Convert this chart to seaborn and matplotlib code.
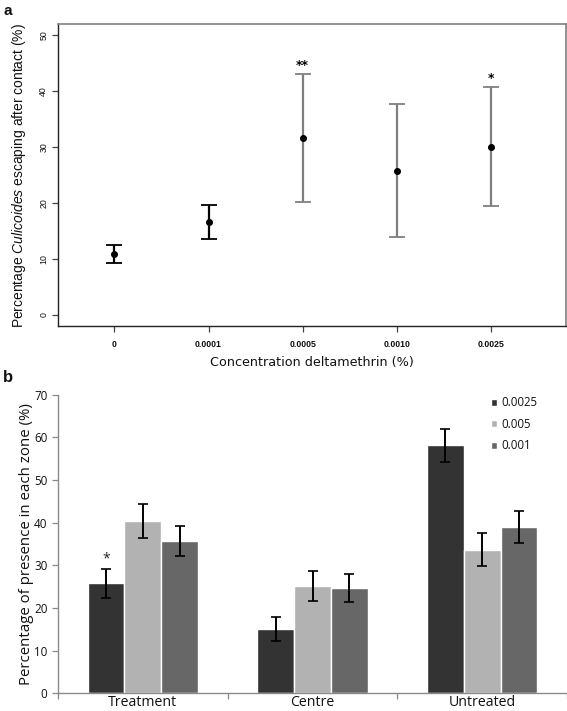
import numpy as np
import pandas as pd
import matplotlib
matplotlib.use("Agg")
import matplotlib.pyplot as plt
import seaborn as sns

# ---------------- data ----------------
conc_labels = ["0", "0.0001", "0.0005", "0.0010", "0.0025"]
escape_mean = [10.9, 16.6, 31.7, 25.8, 30.0]
escape_low = [9.3, 13.6, 20.2, 13.9, 19.4]
escape_high = [12.4, 19.7, 43.1, 37.7, 40.7]
escape_sig = ["", "", "**", "", "*"]

zones = ["Treatment", "Centre", "Untreated"]
doses = ["0.0025", "0.005", "0.001"]
presence_0025 = [25.8, 15.1, 58.1]
presence_005 = [40.3, 25.2, 33.7]
presence_001 = [35.7, 24.6, 39.0]
err_0025 = [3.4, 2.9, 3.9]
err_005 = [4.0, 3.5, 3.9]
err_001 = [3.6, 3.3, 3.7]
presence_sig = [["*", "", ""], ["", "", ""], ["", "", ""]]  # by dose, zone

sns.set_theme(style="white")
plt.rcParams["font.family"] = ["DejaVu Sans"]
plt.rcParams["mathtext.fontset"] = "custom"
plt.rcParams["mathtext.rm"] = "Liberation Sans"
plt.rcParams["mathtext.it"] = "Liberation Sans:italic"
for k in ["text.color", "axes.labelcolor", "xtick.color", "ytick.color"]:
    plt.rcParams[k] = "#111111"

W, H = 567, 711
fig = plt.figure(figsize=(W / 100, H / 100), dpi=100)

def box(l, r, t, b):
    return [l / W, 1 - b / H, (r - l) / W, (b - t) / H]

# ---------------- panel a ----------------
axa = fig.add_axes(box(58, 566, 24, 326))
dfa = pd.DataFrame({"conc": conc_labels, "mean": escape_mean})
sns.pointplot(data=dfa, x="conc", y="mean", order=conc_labels, linestyle="none",
              color="black", markers="o", markersize=3.0, errorbar=None, ax=axa, zorder=5)
ecols = ["black", "black", "#7f7f7f", "#7f7f7f", "#7f7f7f"]
for i, (m, lo, hi) in enumerate(zip(escape_mean, escape_low, escape_high)):
    axa.errorbar(i, m, yerr=[[m - lo], [hi - m]], fmt="none", ecolor=ecols[i],
                 elinewidth=1.6, capsize=5.5, capthick=1.3, zorder=3)
    if escape_sig[i]:
        axa.text(i, hi + 0.4, escape_sig[i], ha="center", va="bottom",
                 fontsize=9, fontweight="bold", color="black")
axa.set_xlim(-0.6, 4.8)
axa.set_ylim(-2, 52)
axa.set_yticks(range(0, 51, 10))
axa.set_yticklabels([str(v) for v in range(0, 51, 10)], rotation=90, va="center",
                    fontsize=6.3, family="Liberation Sans")
axa.set_xticks(range(5))
axa.set_xticklabels(conc_labels, fontsize=6.3, fontweight="bold", family="Liberation Sans")
axa.tick_params(axis="both", which="major", direction="out", length=4, width=0.9,
                color="#444444", pad=3, left=True, bottom=True)
axa.tick_params(axis="x", pad=6)
for s in ["left", "bottom"]:
    axa.spines[s].set_color("#222222")
    axa.spines[s].set_linewidth(1.0)
for s in ["top", "right"]:
    axa.spines[s].set_color("#808080")
    axa.spines[s].set_linewidth(1.2)
axa.set_xlabel("Concentration deltamethrin (%)", fontsize=9.2, family="DejaVu Sans", labelpad=5)
axa.set_ylabel("Percentage $\\mathit{Culicoides}$ escaping after contact (%)",
               fontsize=10.0, family="Liberation Sans")
axa.yaxis.set_label_coords(-0.059, 0.5)
fig.text(3 / W, 1 - 4 / H, "a", fontsize=11, fontweight="bold", va="top", ha="left",
         family="Liberation Sans")

# ---------------- panel b ----------------
axb = fig.add_axes(box(58, 567, 394.7, 693.3))
rows = []
vals = {"0.0025": presence_0025, "0.005": presence_005, "0.001": presence_001}
errs = {"0.0025": err_0025, "0.005": err_005, "0.001": err_001}
for d in doses:
    for z, v in zip(zones, vals[d]):
        rows.append({"zone": z, "dose": d, "value": v})
dfb = pd.DataFrame(rows)
palette = {"0.0025": "#333333", "0.005": "#b2b2b2", "0.001": "#676767"}
sns.barplot(data=dfb, x="zone", y="value", hue="dose", order=zones, hue_order=doses,
            palette=palette, width=0.65, errorbar=None, edgecolor="white",
            linewidth=1.0, saturation=1, ax=axb)
for j, (d, cont) in enumerate(zip(doses, axb.containers)):
    for k, bar in enumerate(cont):
        xc = bar.get_x() + bar.get_width() / 2
        v = vals[d][k]
        e = errs[d][k]
        axb.errorbar(xc, v, yerr=e, fmt="none", ecolor="black", elinewidth=1.4,
                     capsize=3.5, capthick=1.2, zorder=4)
        if presence_sig[j][k]:
            axb.text(xc, v + e + 0.6, presence_sig[j][k], ha="center", va="bottom",
                     fontsize=10, family="Open Sans", color="#222222")
axb.set_xlim(-0.5, 2.5)
axb.set_ylim(0, 70)
axb.set_yticks(range(0, 71, 10))
axb.set_yticklabels([str(v) for v in range(0, 71, 10)], fontsize=8.4, family="Open Sans")
axb.set_xticks([-0.5, 0.5, 1.5, 2.5])
axb.set_xticklabels([])
axb.set_xticks([0, 1, 2], minor=True)
axb.set_xticklabels(zones, minor=True, fontsize=10.2, family="Open Sans")
axb.tick_params(axis="x", which="minor", length=0, pad=1.5)
axb.tick_params(axis="both", which="major", direction="out", length=4.5, width=0.9,
                color="#8a8a8a", left=True, bottom=True, pad=3)
sns.despine(ax=axb)
for s in ["left", "bottom"]:
    axb.spines[s].set_color("#8a8a8a")
    axb.spines[s].set_linewidth(1.0)
axb.set_xlabel("")
axb.set_ylabel("Percentage of presence in each zone (%)", fontsize=10.8, family="Open Sans")
axb.yaxis.set_label_coords(-0.047, 0.5)
sns.move_legend(axb, loc="upper left", bbox_to_anchor=(0.83, 1.03), frameon=False, title=None,
                handlelength=0.55, handleheight=0.55, handletextpad=0.35,
                labelspacing=0.75, prop={"family": "Open Sans", "size": 8.3})
fig.text(3 / W, 1 - 370 / H, "b", fontsize=12, fontweight="bold", va="top", ha="left",
         family="Liberation Sans")

fig.savefig("out.png", dpi=100)
